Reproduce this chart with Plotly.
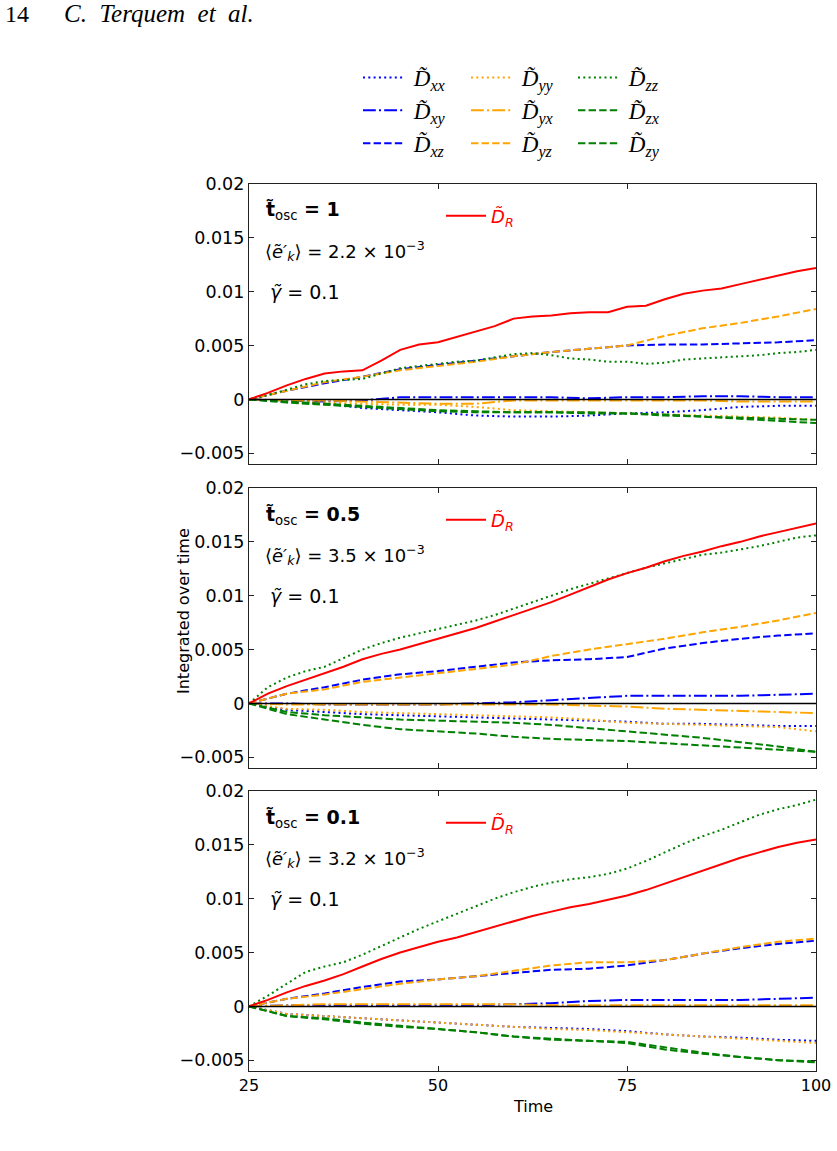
import plotly.graph_objects as go

W, H = 837, 1151

# ---------------- data ----------------
time_fine = [25, 27.5, 30, 32.5, 35, 37.5, 40, 42.5, 45, 47.5, 50, 52.5, 55, 57.5, 60,
             62.5, 65, 67.5, 70, 72.5, 75, 77.5, 80, 82.5, 85, 87.5, 90, 92.5, 95, 97.5, 100]
time_coarse = [25, 30, 35, 40, 45, 50, 55, 60, 65, 70, 75, 80, 85, 90, 95, 100]

# panel 1 : t_osc = 1
p1_DR = [0, 0.0006, 0.0013, 0.0019, 0.0024, 0.0026, 0.0027, 0.0036, 0.0046, 0.0051, 0.0053,
         0.0058, 0.0063, 0.0068, 0.0075, 0.0077, 0.0078, 0.0080, 0.0081, 0.0081, 0.0086, 0.0087,
         0.0093, 0.0098, 0.0101, 0.0103, 0.0107, 0.0111, 0.0115, 0.0119, 0.0122]
p1_Dzz = [0, 0.0004, 0.0009, 0.0014, 0.0017, 0.0018, 0.0019, 0.0024, 0.0029, 0.0031, 0.0033,
          0.0035, 0.0036, 0.0039, 0.0042, 0.0043, 0.0041, 0.0038, 0.0037, 0.0035, 0.0035, 0.0033,
          0.0034, 0.0037, 0.0038, 0.0039, 0.0040, 0.0041, 0.0043, 0.0044, 0.0046]
p1_Dxx = [0, -0.0002, -0.0004, -0.0008, -0.0010, -0.0012, -0.0015, -0.0016, -0.0016, -0.0015,
          -0.0013, -0.0012, -0.0010, -0.0007, -0.0006, -0.0006]
p1_Dxy = [0, -0.0001, -0.0002, -0.0001, 0.0002, 0.0002, 0.0002, 0.0002, 0.0002, 0.0001, 0.0002,
          0.0002, 0.0003, 0.0003, 0.0002, 0.0002]
p1_Dxz = [0, 0.0008, 0.0015, 0.0021, 0.0028, 0.0032, 0.0036, 0.0040, 0.0044, 0.0047, 0.0050,
          0.0051, 0.0051, 0.0052, 0.0053, 0.0055]
p1_Dyy = [0, -0.0002, -0.0003, -0.0004, -0.0005, -0.0005, -0.0007, -0.0010, -0.0011, -0.0012,
          -0.0013, -0.0014, -0.0015, -0.0016, -0.0017, -0.0019]
p1_Dyx = [0, -0.0001, -0.0001, -0.0002, -0.0003, -0.0004, -0.0004, -0.0001, -0.0001, -0.0001,
          -0.0001, -0.0001, -0.0001, -0.0002, -0.0002, -0.0002]
p1_Dyz = [0, 0.0008, 0.0016, 0.0021, 0.0027, 0.0031, 0.0035, 0.0040, 0.0044, 0.0047, 0.0050,
          0.0059, 0.0066, 0.0071, 0.0077, 0.0084]
p1_Dzx = [0, -0.0003, -0.0005, -0.0007, -0.0009, -0.0011, -0.0012, -0.0012, -0.0012, -0.0012,
          -0.0013, -0.0014, -0.0016, -0.0018, -0.0020, -0.0022]
p1_Dzy = [0, -0.0002, -0.0004, -0.0006, -0.0008, -0.0010, -0.0011, -0.0012, -0.0012, -0.0013,
          -0.0013, -0.0015, -0.0016, -0.0017, -0.0018, -0.0019]

# panel 2 : t_osc = 0.5
p2_DR = [0, 0.0009, 0.0016, 0.0022, 0.0028, 0.0034, 0.0041, 0.0046, 0.0050, 0.0055, 0.0060,
         0.0065, 0.0070, 0.0076, 0.0082, 0.0088, 0.0094, 0.0101, 0.0108, 0.0115, 0.0121, 0.0126,
         0.0132, 0.0137, 0.0141, 0.0146, 0.0150, 0.0155, 0.0159, 0.0163, 0.0167]
p2_Dzz = [0, 0.0015, 0.0024, 0.0030, 0.0034, 0.0042, 0.0050, 0.0056, 0.0061, 0.0065, 0.0069,
          0.0073, 0.0077, 0.0082, 0.0088, 0.0094, 0.0100, 0.0106, 0.0111, 0.0116, 0.0121, 0.0126,
          0.0130, 0.0134, 0.0138, 0.0140, 0.0143, 0.0146, 0.0150, 0.0154, 0.0156]
p2_Dxx = [0, -0.0006, -0.0008, -0.0010, -0.0011, -0.0012, -0.0013, -0.0014, -0.0015, -0.0016,
          -0.0017, -0.0019, -0.0019, -0.0020, -0.0021, -0.0021]
p2_Dxy = [0, 0, -0.0001, -0.0001, -0.0001, -0.0001, 0, 0.0001, 0.0003, 0.0005, 0.0007, 0.0007,
          0.0007, 0.0007, 0.0008, 0.0009]
p2_Dxz = [0, 0.0009, 0.0015, 0.0022, 0.0027, 0.0030, 0.0034, 0.0038, 0.0040, 0.0041, 0.0043,
          0.0051, 0.0056, 0.0060, 0.0063, 0.0065]
p2_Dyy = [0, -0.0005, -0.0006, -0.0008, -0.0009, -0.0010, -0.0011, -0.0012, -0.0013, -0.0015,
          -0.0018, -0.0019, -0.0020, -0.0021, -0.0022, -0.0026]
p2_Dyx = [0, -0.0001, -0.0001, -0.0001, -0.0001, -0.0001, -0.0001, -0.0001, -0.0001, -0.0002,
          -0.0003, -0.0005, -0.0006, -0.0007, -0.0008, -0.0009]
p2_Dyz = [0, 0.0009, 0.0013, 0.0020, 0.0024, 0.0028, 0.0032, 0.0036, 0.0044, 0.0050, 0.0055,
          0.0060, 0.0066, 0.0071, 0.0077, 0.0084]
p2_Dzx = [0, -0.0010, -0.0015, -0.0020, -0.0024, -0.0026, -0.0028, -0.0031, -0.0033, -0.0034,
          -0.0035, -0.0037, -0.0039, -0.0041, -0.0043, -0.0045]
p2_Dzy = [0, -0.0008, -0.0011, -0.0013, -0.0015, -0.0016, -0.0017, -0.0018, -0.0020, -0.0023,
          -0.0026, -0.0029, -0.0032, -0.0036, -0.0040, -0.0045]

# panel 3 : t_osc = 0.1
p3_DR = [0, 0.0006, 0.0013, 0.0019, 0.0024, 0.0030, 0.0037, 0.0044, 0.0050, 0.0055, 0.0060,
         0.0064, 0.0069, 0.0074, 0.0079, 0.0084, 0.0088, 0.0092, 0.0095, 0.0099, 0.0103, 0.0108,
         0.0114, 0.0120, 0.0126, 0.0132, 0.0138, 0.0143, 0.0148, 0.0152, 0.0155]
p3_Dzz = [0, 0.0010, 0.0021, 0.0032, 0.0037, 0.0041, 0.0048, 0.0056, 0.0064, 0.0072, 0.0079,
          0.0086, 0.0093, 0.0100, 0.0106, 0.0111, 0.0115, 0.0118, 0.0120, 0.0123, 0.0128, 0.0135,
          0.0143, 0.0151, 0.0158, 0.0164, 0.0171, 0.0178, 0.0183, 0.0187, 0.0192]
p3_Dxx = [0, -0.0007, -0.0009, -0.0011, -0.0013, -0.0015, -0.0017, -0.0019, -0.0020, -0.0021,
          -0.0023, -0.0026, -0.0028, -0.0029, -0.0031, -0.0032]
p3_Dxy = [0, 0.0001, 0.0001, 0.0001, 0.0001, 0.0001, 0.0001, 0.0002, 0.0003, 0.0005, 0.0006,
          0.0006, 0.0006, 0.0006, 0.0007, 0.0008]
p3_Dxz = [0, 0.0007, 0.0012, 0.0018, 0.0023, 0.0025, 0.0028, 0.0031, 0.0034, 0.0035, 0.0038,
          0.0043, 0.0049, 0.0054, 0.0058, 0.0061]
p3_Dyy = [0, -0.0007, -0.0009, -0.0011, -0.0013, -0.0015, -0.0017, -0.0019, -0.0021, -0.0022,
          -0.0024, -0.0026, -0.0028, -0.0030, -0.0032, -0.0034]
p3_Dyx = [0, 0.0001, 0.0002, 0.0002, 0.0002, 0.0002, 0.0002, 0.0002, 0.0001, 0.0001, 0.0001,
          0.0001, 0.0001, 0.0001, 0.0001, 0.0001]
p3_Dyz = [0, 0.0007, 0.0011, 0.0016, 0.0021, 0.0025, 0.0028, 0.0033, 0.0038, 0.0041, 0.0041,
          0.0043, 0.0049, 0.0055, 0.0060, 0.0063]
p3_Dzx = [0, -0.0009, -0.0012, -0.0016, -0.0019, -0.0021, -0.0024, -0.0028, -0.0030, -0.0032,
          -0.0033, -0.0038, -0.0043, -0.0047, -0.0050, -0.0052]
p3_Dzy = [0, -0.0009, -0.0011, -0.0015, -0.0018, -0.0021, -0.0024, -0.0028, -0.0031, -0.0032,
          -0.0034, -0.0040, -0.0044, -0.0047, -0.0050, -0.0051]

panel_tosc = ["1", "0.5", "0.1"]
panel_ek = ["2.2", "3.5", "3.2"]
panel_gamma = ["0.1", "0.1", "0.1"]

y_tickvals = [-0.005, 0, 0.005, 0.01, 0.015, 0.02]
y_ticktext = ["\u22120.005", "0", "0.005", "0.01", "0.015", "0.02"]
x_tickvals = [25, 50, 75, 100]
x_ticktext = ["25", "50", "75", "100"]

panels = [
    dict(Dxx=p1_Dxx, Dxy=p1_Dxy, Dxz=p1_Dxz, Dyy=p1_Dyy, Dyx=p1_Dyx, Dyz=p1_Dyz,
         Dzz=p1_Dzz, Dzx=p1_Dzx, Dzy=p1_Dzy, DR=p1_DR),
    dict(Dxx=p2_Dxx, Dxy=p2_Dxy, Dxz=p2_Dxz, Dyy=p2_Dyy, Dyx=p2_Dyx, Dyz=p2_Dyz,
         Dzz=p2_Dzz, Dzx=p2_Dzx, Dzy=p2_Dzy, DR=p2_DR),
    dict(Dxx=p3_Dxx, Dxy=p3_Dxy, Dxz=p3_Dxz, Dyy=p3_Dyy, Dyx=p3_Dyx, Dyz=p3_Dyz,
         Dzz=p3_Dzz, Dzx=p3_Dzx, Dzy=p3_Dzy, DR=p3_DR),
]

# ---------------- styles ----------------
BLUE, ORANGE, GREEN, RED = "#0000ff", "#ffa500", "#008000", "#ff0000"
DOT = "2px,3.3px"
DASH = "7.4px,3.2px"
DASHDOT = "12.8px,3.2px,2px,3.2px"
LW = 2

series_style = {
    "Dxx": (BLUE, DOT, "legend", "xx"),
    "Dxy": (BLUE, DASHDOT, "legend", "xy"),
    "Dxz": (BLUE, DASH, "legend", "xz"),
    "Dyy": (ORANGE, DOT, "legend2", "yy"),
    "Dyx": (ORANGE, DASHDOT, "legend2", "yx"),
    "Dyz": (ORANGE, DASH, "legend2", "yz"),
    "Dzz": (GREEN, DOT, "legend3", "zz"),
    "Dzx": (GREEN, DASH, "legend3", "zx"),
    "Dzy": (GREEN, DASH, "legend3", "zy"),
}
draw_order = ["Dxx", "Dxy", "Dxz", "Dyy", "Dyx", "Dyz", "Dzz", "Dzx", "Dzy"]

def px_x(p):
    return p / W

def px_y(p):
    return 1 - p / H

# panel pixel boxes (top, bottom)
boxes = [(184, 464), (488, 768), (791, 1071)]
X_LEFT, X_RIGHT = 249, 816

fig = go.Figure()

for i, pdata in enumerate(panels):
    xa = "x" if i == 0 else f"x{i+1}"
    ya = "y" if i == 0 else f"y{i+1}"
    for key in draw_order:
        color, dash, leg, sub = series_style[key]
        vals = pdata[key]
        xs = time_fine if len(vals) == len(time_fine) else time_coarse
        fig.add_trace(go.Scatter(
            x=xs, y=vals, mode="lines", xaxis=xa, yaxis=ya,
            line=dict(color=color, width=LW, dash=dash),
            name=f"\u00a0<i>D\u0303</i><sub><i>{sub}</i></sub>",
            legend=leg, legendgroup=key, showlegend=(i == 0), hoverinfo="skip"))
    fig.add_trace(go.Scatter(
        x=time_fine, y=pdata["DR"], mode="lines", xaxis=xa, yaxis=ya,
        line=dict(color=RED, width=LW),
        name="<i>D\u0303</i><sub><i>R</i></sub>",
        legend=f"legend{4+i}", showlegend=True, hoverinfo="skip"))

axis_common = dict(showline=True, linecolor="#222222", linewidth=1.3, mirror="allticks",
                   ticks="inside", ticklen=5, tickwidth=1, tickcolor="#222222",
                   showgrid=False, zeroline=False, automargin=False)

layout = dict(width=W, height=H, template="none",
              margin=dict(l=0, r=0, t=0, b=0, pad=0, autoexpand=False),
              paper_bgcolor="white", plot_bgcolor="white",
              font=dict(family="DejaVu Sans", size=17, color="black"))

for i, (top, bot) in enumerate(boxes):
    xk = "xaxis" if i == 0 else f"xaxis{i+1}"
    yk = "yaxis" if i == 0 else f"yaxis{i+1}"
    ya = "y" if i == 0 else f"y{i+1}"
    xa = "x" if i == 0 else f"x{i+1}"
    layout[xk] = dict(axis_common, domain=[px_x(X_LEFT), px_x(X_RIGHT)], range=[25, 100],
                      anchor=ya, tickvals=x_tickvals, ticktext=x_ticktext,
                      showticklabels=(i == 2), tickfont=dict(size=16))
    if i > 0:
        layout[xk]["matches"] = "x"
    layout[yk] = dict(axis_common, domain=[px_y(bot), px_y(top)], range=[-0.006, 0.02],
                      anchor=xa, tickvals=y_tickvals, ticktext=y_ticktext,
                      tickfont=dict(size=17.5))

legend_font = dict(family="Liberation Serif", size=23, color="black")
cols_px = [358, 466, 573]
for j, lk in enumerate(["legend", "legend2", "legend3"]):
    layout[lk] = dict(x=px_x(cols_px[j]), y=px_y(56), xanchor="left", yanchor="top",
                      bgcolor="rgba(0,0,0,0)", font=legend_font, itemwidth=40,
                      tracegroupgap=0, borderwidth=0)
for i, (top, bot) in enumerate(boxes):
    layout[f"legend{4+i}"] = dict(x=px_x(441), y=px_y(top + 32), xanchor="left",
                                  yanchor="middle", bgcolor="rgba(0,0,0,0)",
                                  font=dict(family="DejaVu Sans", size=18, color=RED),
                                  itemwidth=40, borderwidth=0)

fig.update_layout(**layout)

for i, (top, bot) in enumerate(boxes):
    ya = "y" if i == 0 else f"y{i+1}"
    xa = "x" if i == 0 else f"x{i+1}"
    fig.add_shape(type="line", xref=f"{xa} domain", yref=ya, x0=0, x1=1, y0=0, y1=0,
                  line=dict(color="black", width=1.5))
    fig.add_annotation(xref="paper", yref="paper", x=px_x(264), y=px_y(top + 27),
                       xanchor="left", yanchor="middle", showarrow=False,
                       text=f"<b>t\u0303</b><sub>osc</sub><b> = {panel_tosc[i]}</b>",
                       font=dict(size=19, family="DejaVu Sans"))
    fig.add_annotation(xref="paper", yref="paper", x=px_x(263), y=px_y(top + 67),
                       xanchor="left", yanchor="middle", showarrow=False,
                       text=f"\u27e8<i>e\u0303\u2032</i><sub><i>k</i></sub>\u27e9 = {panel_ek[i]} \u00d7 10<sup>\u22123</sup>",
                       font=dict(size=18, family="DejaVu Sans"))
    fig.add_annotation(xref="paper", yref="paper", x=px_x(268), y=px_y(top + 108),
                       xanchor="left", yanchor="middle", showarrow=False,
                       text=f"<i>\u03b3\u0303</i> = {panel_gamma[i]}",
                       font=dict(size=19, family="DejaVu Sans"))

fig.add_annotation(xref="paper", yref="paper", x=px_x(183), y=px_y(611),
                   xanchor="center", yanchor="middle", showarrow=False, textangle=-90,
                   text="Integrated over time", font=dict(size=16))
fig.add_annotation(xref="paper", yref="paper", x=px_x(533), y=px_y(1106),
                   xanchor="center", yanchor="middle", showarrow=False,
                   text="Time", font=dict(size=16))
fig.add_annotation(xref="paper", yref="paper", x=px_x(3), y=px_y(14),
                   xanchor="left", yanchor="middle", showarrow=False,
                   text="14", font=dict(size=24, family="Liberation Serif"))
fig.add_annotation(xref="paper", yref="paper", x=px_x(62), y=px_y(14),
                   xanchor="left", yanchor="middle", showarrow=False,
                   text="<i>C.\u00a0 Terquem\u00a0 et\u00a0 al.</i>",
                   font=dict(size=25, family="Liberation Serif"))

fig.write_html("out.html")
